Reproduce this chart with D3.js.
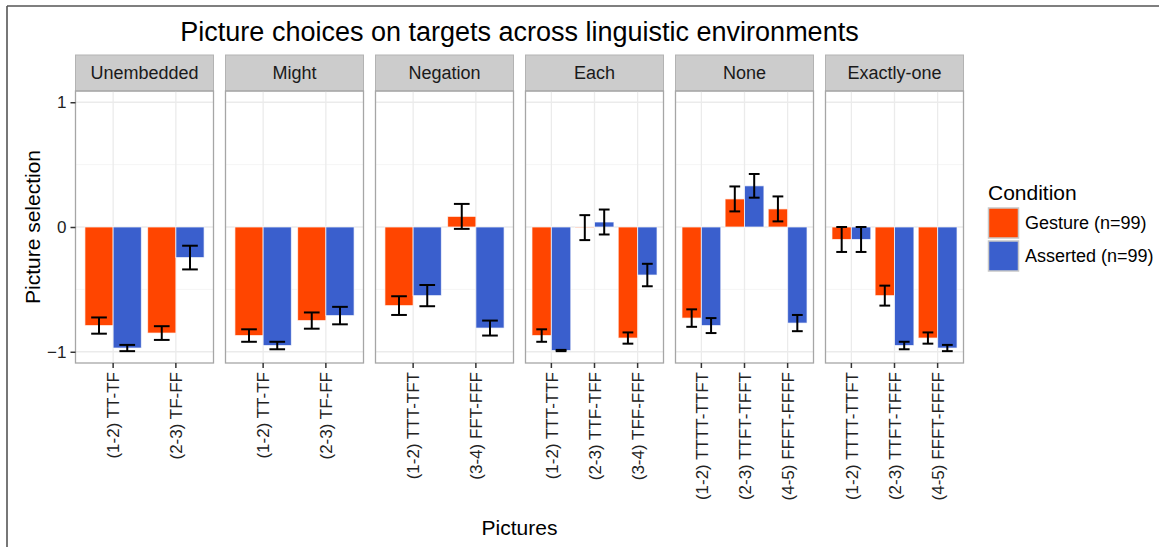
<!DOCTYPE html>
<html>
<head>
<meta charset="utf-8">
<script src="https://cdn.jsdelivr.net/npm/d3@7"></script>
<style>
  body { margin: 0; background: #fff; }
  svg { font-family: "Liberation Sans", Arial, sans-serif; }
</style>
</head>
<body>
<svg id="chart" width="1159" height="547"></svg>
<script>
// facets and their picture pairs
const facetNames = ["Unembedded", "Might", "Negation", "Each", "None", "Exactly-one"];
const pictureLabels = [
    ["(1-2) TT-TF", "(2-3) TF-FF"],
    ["(1-2) TT-TF", "(2-3) TF-FF"],
    ["(1-2) TTT-TFT", "(3-4) FFT-FFF"],
    ["(1-2) TTT-TTF", "(2-3) TTF-TFF", "(3-4) TFF-FFF"],
    ["(1-2) TTTT-TTFT", "(2-3) TTFT-TFFT", "(4-5) FFFT-FFFF"],
    ["(1-2) TTTT-TTFT", "(2-3) TTFT-TFFF", "(4-5) FFFT-FFFF"]
];
const gestureMeans = [
    [-0.79, -0.85],
    [-0.87, -0.75],
    [-0.63, 0.085],
    [-0.87, -0.005, -0.89],
    [-0.73, 0.225, 0.145],
    [-0.10, -0.55, -0.89]
];
const gestureErr = [
    [0.065, 0.055],
    [0.05, 0.065],
    [0.075, 0.10],
    [0.05, 0.10, 0.045],
    [0.07, 0.10, 0.10],
    [0.10, 0.08, 0.045]
];
const assertedMeans = [
    [-0.97, -0.245],
    [-0.95, -0.71],
    [-0.55, -0.81],
    [-0.99, 0.04, -0.385],
    [-0.79, 0.33, -0.77],
    [-0.10, -0.95, -0.97]
];
const assertedErr = [
    [0.025, 0.095],
    [0.03, 0.07],
    [0.085, 0.06],
    [0.005, 0.10, 0.09],
    [0.06, 0.095, 0.065],
    [0.10, 0.03, 0.025]
];
const conditions = ["Gesture (n=99)", "Asserted (n=99)"];
const yTicks = [-1, 0, 1];
const yMinor = [-0.5, 0.5];

const COLORS = ["#FF4500", "#3A5FCD"];
const PANEL_TOP = 91, PANEL_BOTTOM = 363, STRIP_TOP = 55;

const svg = d3.select("#chart");

// outer frame (top and left edges only)
svg.append("line").attr("x1", 7).attr("x2", 1159).attr("y1", 6).attr("y2", 6)
    .attr("stroke", "#555").attr("stroke-width", 1.6);
svg.append("line").attr("x1", 7).attr("x2", 7).attr("y1", 6).attr("y2", 547)
    .attr("stroke", "#555").attr("stroke-width", 1.6);

const panelScale = d3.scaleBand()
    .domain(facetNames)
    .range([75.5, 963.5])
    .paddingInner(0.08)
    .paddingOuter(0);

const yScale = d3.scaleLinear()
    .domain([-1.09, 1.09])
    .range([PANEL_BOTTOM, PANEL_TOP]);

facetNames.forEach((name, fi) => {
    const px = panelScale(name);
    const pw = panelScale.bandwidth();
    const g = svg.append("g").attr("transform", `translate(${px},0)`);

    const xScale = d3.scaleBand()
        .domain(pictureLabels[fi])
        .range([0, pw])
        .paddingInner(0)
        .paddingOuter(0.1);
    const bw = xScale.bandwidth();

    // strip
    g.append("rect").attr("x", 0).attr("y", STRIP_TOP).attr("width", pw)
        .attr("height", PANEL_TOP - STRIP_TOP)
        .attr("fill", "#cccccc").attr("stroke", "#b3b3b3").attr("stroke-width", 1);
    g.append("text").attr("x", pw / 2).attr("y", (STRIP_TOP + PANEL_TOP) / 2)
        .attr("dy", "0.36em").attr("text-anchor", "middle")
        .attr("font-size", 18).attr("fill", "#1a1a1a").text(name);

    // grid
    g.selectAll(".minor").data(yMinor).join("line")
        .attr("x1", 0).attr("x2", pw)
        .attr("y1", d => yScale(d)).attr("y2", d => yScale(d))
        .attr("stroke", "#f2f2f2").attr("stroke-width", 0.8);
    g.selectAll(".majorY").data(yTicks).join("line")
        .attr("x1", 0).attr("x2", pw)
        .attr("y1", d => yScale(d)).attr("y2", d => yScale(d))
        .attr("stroke", "#ebebeb").attr("stroke-width", 1.3);
    g.selectAll(".majorX").data(pictureLabels[fi]).join("line")
        .attr("x1", d => xScale(d) + bw / 2).attr("x2", d => xScale(d) + bw / 2)
        .attr("y1", PANEL_TOP).attr("y2", PANEL_BOTTOM)
        .attr("stroke", "#ebebeb").attr("stroke-width", 1.3);

    // bars + error bars
    const rows = [];
    pictureLabels[fi].forEach((p, i) => {
        rows.push({p, c: 0, v: gestureMeans[fi][i], e: gestureErr[fi][i]});
        rows.push({p, c: 1, v: assertedMeans[fi][i], e: assertedErr[fi][i]});
    });
    const center = d => xScale(d.p) + bw / 2 + (d.c === 0 ? -0.225 : 0.225) * bw;

    g.selectAll(".bar").data(rows).join("rect")
        .attr("x", d => center(d) - 0.225 * bw)
        .attr("width", 0.45 * bw)
        .attr("y", d => yScale(Math.max(0, d.v)))
        .attr("height", d => Math.abs(yScale(d.v) - yScale(0)))
        .attr("fill", d => COLORS[d.c])
        .attr("stroke", "#fff").attr("stroke-width", 1).attr("stroke-opacity", 0.7);

    const eg = g.selectAll(".err").data(rows).join("g").attr("stroke", "#000").attr("stroke-width", 2);
    eg.append("line")
        .attr("x1", center).attr("x2", center)
        .attr("y1", d => yScale(d.v + d.e)).attr("y2", d => yScale(d.v - d.e));
    eg.append("line")
        .attr("x1", d => center(d) - 0.125 * bw).attr("x2", d => center(d) + 0.125 * bw)
        .attr("y1", d => yScale(d.v + d.e)).attr("y2", d => yScale(d.v + d.e));
    eg.append("line")
        .attr("x1", d => center(d) - 0.125 * bw).attr("x2", d => center(d) + 0.125 * bw)
        .attr("y1", d => yScale(d.v - d.e)).attr("y2", d => yScale(d.v - d.e));

    // panel border
    g.append("rect").attr("x", 0).attr("y", PANEL_TOP).attr("width", pw)
        .attr("height", PANEL_BOTTOM - PANEL_TOP)
        .attr("fill", "none").attr("stroke", "#a6a6a6").attr("stroke-width", 1.3);

    // x axis
    const xAxis = g.append("g").attr("transform", `translate(0,${PANEL_BOTTOM})`)
        .call(d3.axisBottom(xScale).tickSize(5).tickSizeOuter(0));
    xAxis.select(".domain").remove();
    xAxis.selectAll("line").attr("stroke", "#333").attr("stroke-width", 1.5);
    xAxis.selectAll("text")
        .attr("transform", "rotate(-90)")
        .attr("x", -9).attr("y", 0).attr("dy", "0.36em")
        .attr("text-anchor", "end")
        .attr("font-size", 17).attr("fill", "#222");
});

// y axis
const yAxis = svg.append("g").attr("transform", "translate(75.5,0)")
    .call(d3.axisLeft(yScale).tickValues(yTicks).tickSize(5).tickPadding(4).tickFormat(d3.format("d")));
yAxis.select(".domain").remove();
yAxis.selectAll("line").attr("stroke", "#333").attr("stroke-width", 1.5);
yAxis.selectAll("text").attr("font-size", 17).attr("fill", "#222");

// titles
svg.append("text").attr("x", 519.5).attr("y", 41).attr("text-anchor", "middle")
    .attr("font-size", 27).attr("fill", "#000")
    .text("Picture choices on targets across linguistic environments");
svg.append("text").attr("x", 519.5).attr("y", 535).attr("text-anchor", "middle")
    .attr("font-size", 21).attr("fill", "#000").text("Pictures");
svg.append("text").attr("transform", "translate(40,227) rotate(-90)")
    .attr("text-anchor", "middle")
    .attr("font-size", 21).attr("fill", "#000").text("Picture selection");

// legend
const legend = svg.append("g").attr("transform", "translate(988,0)");
legend.append("text").attr("x", 0).attr("y", 200).attr("font-size", 21).text("Condition");
legend.selectAll(".key").data(conditions).join("rect")
    .attr("x", 0.5).attr("y", (d, i) => 208 + i * 33)
    .attr("width", 30).attr("height", 30)
    .attr("fill", (d, i) => COLORS[i])
    .attr("stroke", "#c8c8c8").attr("stroke-width", 1.5);
legend.selectAll(".lab").data(conditions).join("text")
    .attr("x", 37).attr("y", (d, i) => 223 + i * 33).attr("dy", "0.36em")
    .attr("font-size", 18).attr("fill", "#000").text(d => d);
</script>
</body>
</html>
